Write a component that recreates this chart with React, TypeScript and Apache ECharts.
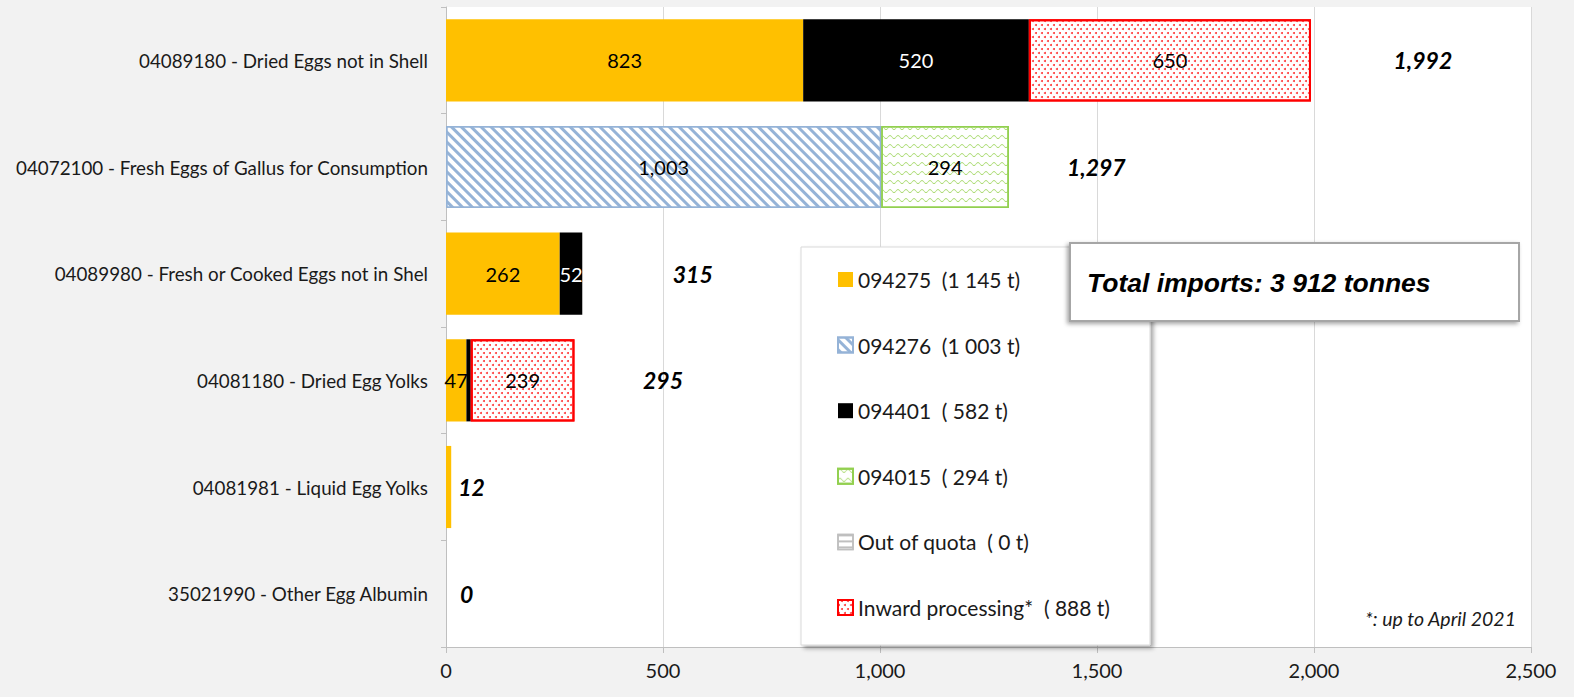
import React, { useEffect, useRef } from "react";
import * as echarts from "echarts";

const categories = [
  "04089180 - Dried Eggs not in Shell",
  "04072100 - Fresh Eggs of Gallus for Consumption",
  "04089980 - Fresh or Cooked Eggs not in Shel",
  "04081180 - Dried Egg Yolks",
  "04081981 - Liquid Egg Yolks",
  "35021990 - Other Egg Albumin",
];
const seriesNames = ["094275", "094276", "094401", "094015", "Out of quota", "Inward processing*"];
const s094275 = [823, null, 262, 47, 12, null];
const s094276 = [null, 1003, null, null, null, null];
const s094401 = [520, null, 52, 10, null, null];
const s094015 = [null, 294, null, null, null, null];
const sOutOfQuota = [0, 0, 0, 0, 0, 0];
const sInward = [650, null, null, 239, null, null];
const totals = [1992, 1297, 315, 295, 12, 0];
const legendTotals = [1145, 1003, 582, 294, 0, 888];
const xMin = 0;
const xMax = 2500;
const xInterval = 500;
const totalImportsText = "Total imports: 3 912 tonnes";
const footnote = "*: up to April 2021";

const fmt = (v: number) => v.toLocaleString("en-US");
const fmtSpace = (v: number) => (v >= 1000 ? `${Math.floor(v / 1000)} ${String(v % 1000).padStart(3, "0")}` : ` ${v}`);

const FONT = "Lato, 'Open Sans', sans-serif";

export default function App() {
  const ref = useRef<HTMLDivElement>(null);
  useEffect(() => {
    document.body.style.margin = "0";
    const chart = echarts.init(ref.current!, null, { renderer: "svg" });
    const valueLabel = (color: string) => ({
      show: true,
      position: "inside",
      color,
      fontFamily: FONT,
      fontSize: 20,
      formatter: (p: any) => (p.value != null && p.value >= 20 ? fmt(p.value) : ""),
    });
    const totalDistances = [83, 58, 90, 69, 7, 14];
    const stackSeries = [
      {
        name: seriesNames[0],
        data: s094275,
        itemStyle: { color: "#ffc000" },
        label: valueLabel("#000"),
      },
      {
        name: seriesNames[1],
        data: s094276,
        itemStyle: {
          color: "#ffffff",
          borderColor: "#95b3d7",
          borderWidth: 1.5,
          decal: {
            symbol: "rect",
            color: "#95b3d7",
            dashArrayX: [1, 0],
            dashArrayY: [3, 4],
            rotation: Math.PI / 4,
          },
        },
        label: valueLabel("#000"),
      },
      {
        name: seriesNames[2],
        data: s094401,
        itemStyle: { color: "#000000" },
        label: valueLabel("#fff"),
      },
      {
        name: seriesNames[3],
        data: s094015,
        itemStyle: {
          color: "#ffffff",
          borderColor: "#92d050",
          borderWidth: 1.5,
          decal: {
            symbol: "path://M0 2.4 Q2 -0.6 4 2.4 Q6 5.4 8 2.4 L8 3.4 Q6 6.4 4 3.4 Q2 0.4 0 3.4 Z",
            color: "#a6d96a",
            symbolSize: 1,
            dashArrayX: [8, 0],
            dashArrayY: [4, 4.5],
          },
        },
        label: valueLabel("#000"),
      },
      {
        name: seriesNames[4],
        data: sOutOfQuota,
        itemStyle: {
          color: "#ffffff",
          borderWidth: 0,
          decal: {
            symbol: "rect",
            color: "#bfbfbf",
            dashArrayX: [1, 0],
            dashArrayY: [2, 4],
          },
        },
        label: { show: false },
      },
      {
        name: seriesNames[5],
        data: sInward,
        itemStyle: {
          color: "#ffffff",
          borderColor: "#ff0000",
          borderWidth: 2,
          decal: {
            symbol: "circle",
            color: "#ff3a3a",
            symbolSize: 1,
            dashArrayX: [[2, 4], [0, 3, 2, 1]],
            dashArrayY: [2, 1.4],
          },
        },
        label: valueLabel("#000"),
      },
    ].map((s) => ({
      ...s,
      type: "bar",
      stack: "total",
      barCategoryGap: "23%",
      barGap: "-100%",
    }));

    const legendIconStyles: any[] = [
      {},
      {},
      {},
      {},
      { borderColor: "#bfbfbf", borderWidth: 1.5 },
      {},
    ];

    const option: any = {
      animation: false,
      backgroundColor: "#f2f2f2",
      textStyle: { fontFamily: FONT },
      grid: {
        left: 446,
        right: 43,
        top: 7,
        bottom: 50,
        show: true,
        backgroundColor: "#ffffff",
        borderWidth: 0,
      },
      xAxis: {
        type: "value",
        min: xMin,
        max: xMax,
        interval: xInterval,
        axisLine: { show: true, lineStyle: { color: "#bfbfbf", width: 1 } },
        axisTick: { show: true, length: 6, lineStyle: { color: "#bfbfbf" } },
        axisLabel: {
          color: "#1a1a1a",
          fontFamily: FONT,
          fontSize: 20,
          margin: 13,
          formatter: (v: number) => fmt(v),
        },
        splitLine: { show: true, lineStyle: { color: "#d9d9d9", width: 1 } },
      },
      yAxis: {
        type: "category",
        data: categories,
        inverse: true,
        axisLine: { show: true, lineStyle: { color: "#bfbfbf", width: 1 } },
        axisTick: { show: true, length: 5, inside: false, lineStyle: { color: "#bfbfbf" } },
        axisLabel: {
          color: "#1a1a1a",
          fontFamily: FONT,
          fontSize: 18.8,
          margin: 18,
        },
      },
      legend: {
        z: 20,
        orient: "vertical",
        left: 837,
        top: 269,
        padding: 0,
        itemWidth: 15,
        itemHeight: 15,
        itemGap: 44.6,
        icon: "rect",
        data: seriesNames.map((n, i) => ({ name: n, itemStyle: legendIconStyles[i] })),
        selectedMode: false,
        textStyle: { fontFamily: FONT, fontSize: 21, lineHeight: 21, color: "#1a1a1a" },
        formatter: (name: string) => {
          const i = seriesNames.indexOf(name);
          return `${name}  (${fmtSpace(legendTotals[i])} t)`;
        },
      },
      graphic: [
        {
          type: "rect",
          z: 10,
          shape: { x: 801, y: 247, width: 349, height: 398 },
          style: {
            fill: "#ffffff",
            stroke: "#d9d9d9",
            lineWidth: 1,
            shadowBlur: 4,
            shadowOffsetX: 3,
            shadowOffsetY: 3,
            shadowColor: "rgba(0,0,0,0.35)",
          },
        },
        {
          type: "rect",
          z: 10,
          shape: { x: 1070, y: 243, width: 449, height: 78 },
          style: {
            fill: "#ffffff",
            stroke: "#a6a6a6",
            lineWidth: 2,
            shadowBlur: 4,
            shadowOffsetX: -2,
            shadowOffsetY: 2,
            shadowColor: "rgba(0,0,0,0.35)",
          },
        },
        {
          type: "text",
          z: 11,
          x: 1087,
          y: 283,
          style: {
            text: totalImportsText,
            fill: "#000",
            font: "italic bold 26.5px 'Liberation Sans', Arial, sans-serif",
            verticalAlign: "middle",
            align: "left",
          },
        },
        {
          type: "text",
          z: 11,
          x: 1516,
          y: 618,
          style: {
            text: footnote,
            fill: "#1a1a1a",
            font: `italic 19.5px ${FONT}`,
            verticalAlign: "middle",
            align: "right",
          },
        },
      ],
      series: [
        ...stackSeries,
        {
          name: "Total",
          type: "bar",
          barCategoryGap: "23%",
          barGap: "-100%",
          silent: true,
          itemStyle: { color: "transparent" },
          data: totals.map((v, i) => ({
            value: v,
            label: { distance: totalDistances[i] },
          })),
          label: {
            show: true,
            position: "right",
            color: "#000",
            fontFamily: FONT,
            fontSize: 23,
            fontWeight: "bold",
            fontStyle: "italic",
            formatter: (p: any) => fmt(p.value),
          },
        },
      ],
    };
    chart.setOption(option);
    return () => chart.dispose();
  }, []);
  return (
    <div
      ref={ref}
      style={{ position: "fixed", left: 0, top: 0, width: 1574, height: 697, background: "#f2f2f2" }}
    />
  );
}
